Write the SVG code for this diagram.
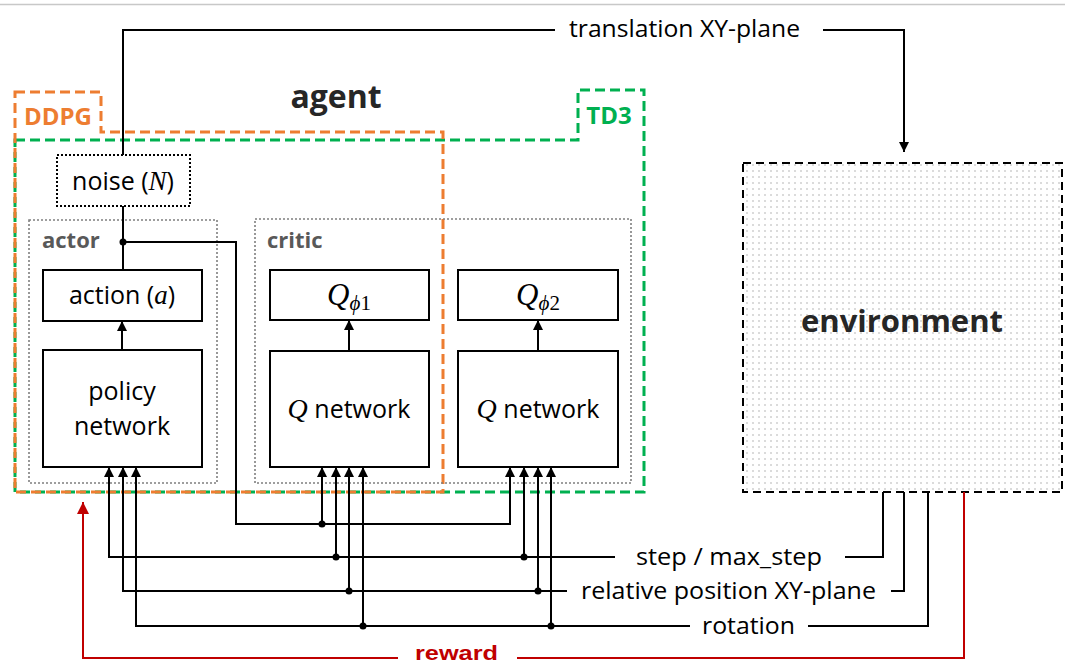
<svg xmlns="http://www.w3.org/2000/svg" width="1065" height="665" viewBox="0 0 1065 665">
<style>
text{font-family:"Open Sans","Liberation Sans",sans-serif;fill:#000}
.lbl{font-size:25px}
.box{fill:#fff;stroke:#000;stroke-width:2}
.dot{fill:none;stroke:#7f7f7f;stroke-width:1.6;stroke-dasharray:2 2}
.ln{fill:none;stroke:#000;stroke-width:2}
.arr{marker-end:url(#ah)}
.b{font-weight:bold}
.m{font-family:"Liberation Serif","DejaVu Serif",serif;font-style:italic}
</style>
<defs>
<marker id="ah" viewBox="0 0 10 10" refX="10" refY="5" markerWidth="5" markerHeight="5" orient="auto" markerUnits="strokeWidth"><path d="M0,0 L10,5 L0,10 z" fill="#000"/></marker>
<marker id="ahr" viewBox="0 0 10 10" refX="10" refY="5" markerWidth="6" markerHeight="6" orient="auto" markerUnits="strokeWidth"><path d="M0,0 L10,5 L0,10 z" fill="#c00000"/></marker>
<pattern id="dots" width="6" height="6" patternUnits="userSpaceOnUse"><circle cx="3" cy="3" r="0.7" fill="#9a9a9a"/></pattern>
</defs>
<rect width="1065" height="665" fill="#fff"/>
<line x1="0" y1="4.5" x2="1065" y2="4.5" stroke="#c8c8c8" stroke-width="1.5"/>

<g id="td3">
<path d="M15,140 H578 V90 H644 V492 H15 Z" fill="none" stroke="#00b050" stroke-width="3" stroke-dasharray="10 5"/>
<text x="609" y="124" text-anchor="middle" class="b" font-size="24" style="fill:#00b050">TD3</text>
</g>
<g id="ddpg">
<path d="M15,92 H101 V132 H443 V492 H15 Z" fill="none" stroke="#ed7d31" stroke-width="3" stroke-dasharray="10 5"/>
<text x="58" y="125" text-anchor="middle" class="b" font-size="24" style="fill:#ed7d31">DDPG</text>
</g>
<g id="agent-title"><text x="336" y="108" text-anchor="middle" class="b" font-size="32" style="fill:#262626">agent</text></g>

<g id="actor">
<rect x="29" y="220" width="188" height="263" class="dot"/>
<text x="42" y="248" class="b" font-size="22" style="fill:#595959">actor</text>
</g>
<g id="critic">
<rect x="255" y="219" width="376" height="264" class="dot"/>
<text x="267" y="248" class="b" font-size="22" style="fill:#595959">critic</text>
</g>

<g id="noise">
<rect x="57" y="155" width="133" height="51" fill="#fff" stroke="#000" stroke-width="2" stroke-dasharray="2 2"/>
<text x="123" y="190" text-anchor="middle" class="lbl">noise (<tspan class="m" font-size="27">N</tspan>)</text>
</g>
<g id="action">
<rect x="43" y="270" width="159" height="51" class="box"/>
<text x="122" y="304" text-anchor="middle" class="lbl">action (<tspan class="m" font-size="27">a</tspan>)</text>
</g>
<g id="policy">
<rect x="43" y="350" width="159" height="117" class="box"/>
<text x="122" y="400" text-anchor="middle" class="lbl">policy</text>
<text x="122" y="435" text-anchor="middle" class="lbl">network</text>
</g>
<g id="qphi1">
<rect x="270" y="270" width="159" height="50" class="box"/>
<text x="349" y="305" text-anchor="middle"><tspan class="m" font-size="31">Q</tspan><tspan class="m" font-size="21" dy="5">ϕ</tspan><tspan font-family="Liberation Serif,serif" font-size="21">1</tspan></text>
</g>
<g id="qnet1">
<rect x="270" y="351" width="159" height="116" class="box"/>
<text x="349" y="418" text-anchor="middle" class="lbl"><tspan class="m" font-size="28">Q</tspan> network</text>
</g>
<g id="qphi2">
<rect x="458" y="270" width="160" height="50" class="box"/>
<text x="538" y="305" text-anchor="middle"><tspan class="m" font-size="31">Q</tspan><tspan class="m" font-size="21" dy="5">ϕ</tspan><tspan font-family="Liberation Serif,serif" font-size="21">2</tspan></text>
</g>
<g id="qnet2">
<rect x="458" y="351" width="160" height="116" class="box"/>
<text x="538" y="418" text-anchor="middle" class="lbl"><tspan class="m" font-size="28">Q</tspan> network</text>
</g>

<g id="environment">
<rect x="743" y="163" width="319" height="329" fill="#fff"/>
<rect x="743" y="163" width="319" height="329" fill="url(#dots)" stroke="#000" stroke-width="2" stroke-dasharray="8 5"/>
<text x="902" y="332" text-anchor="middle" class="b" font-size="31" style="fill:#262626">environment</text>
</g>

<g id="connectors">
<path class="ln" d="M123,155 V30 H555"/>
<path class="ln arr" d="M823,30 H904 V152"/>
<text x="569" y="37" font-size="24" textLength="231" lengthAdjust="spacingAndGlyphs">translation XY-plane</text>
<path class="ln" d="M123,206 V270"/>
<path class="ln arr" d="M122,350 V321"/>
<path class="ln arr" d="M349,351 V320"/>
<path class="ln arr" d="M538,351 V320"/>
<path class="ln arr" d="M123,242 H236 V524 H510 V467"/>
<path class="ln arr" d="M322,524 V467"/>
<path class="ln arr" d="M615,557 H109 V467"/>
<path class="ln arr" d="M336,557 V467"/>
<path class="ln arr" d="M524,557 V467"/>
<path class="ln" d="M845,557 H883 V492"/>
<path class="ln arr" d="M567,591 H123 V467"/>
<path class="ln arr" d="M349,591 V467"/>
<path class="ln arr" d="M538,591 V467"/>
<path class="ln" d="M891,591 H904 V492"/>
<path class="ln arr" d="M690,626 H136 V467"/>
<path class="ln arr" d="M363,626 V467"/>
<path class="ln arr" d="M551,626 V467"/>
<path class="ln" d="M808,626 H928 V492"/>
<path d="M398,658 H83 V502" fill="none" stroke="#c00000" stroke-width="2" marker-end="url(#ahr)"/>
<path d="M517,658 H964 V492" fill="none" stroke="#c00000" stroke-width="2"/>
<g fill="#000">
<circle cx="123" cy="242" r="3.5"/>
<circle cx="322" cy="524" r="3.5"/>
<circle cx="336" cy="557" r="3.5"/>
<circle cx="524" cy="557" r="3.5"/>
<circle cx="349" cy="591" r="3.5"/>
<circle cx="538" cy="591" r="3.5"/>
<circle cx="363" cy="626" r="3.5"/>
<circle cx="551" cy="626" r="3.5"/>
</g>
<text x="636" y="565" font-size="24" textLength="186" lengthAdjust="spacingAndGlyphs">step / max_step</text>
<text x="581" y="599" font-size="24" textLength="295" lengthAdjust="spacingAndGlyphs">relative position XY-plane</text>
<text x="702" y="634" font-size="24" textLength="93" lengthAdjust="spacingAndGlyphs">rotation</text>
<text x="415" y="660" class="b" font-size="21" textLength="83" lengthAdjust="spacingAndGlyphs" style="fill:#c00000;font-family:'Liberation Sans',sans-serif">reward</text>
</g>
</svg>
